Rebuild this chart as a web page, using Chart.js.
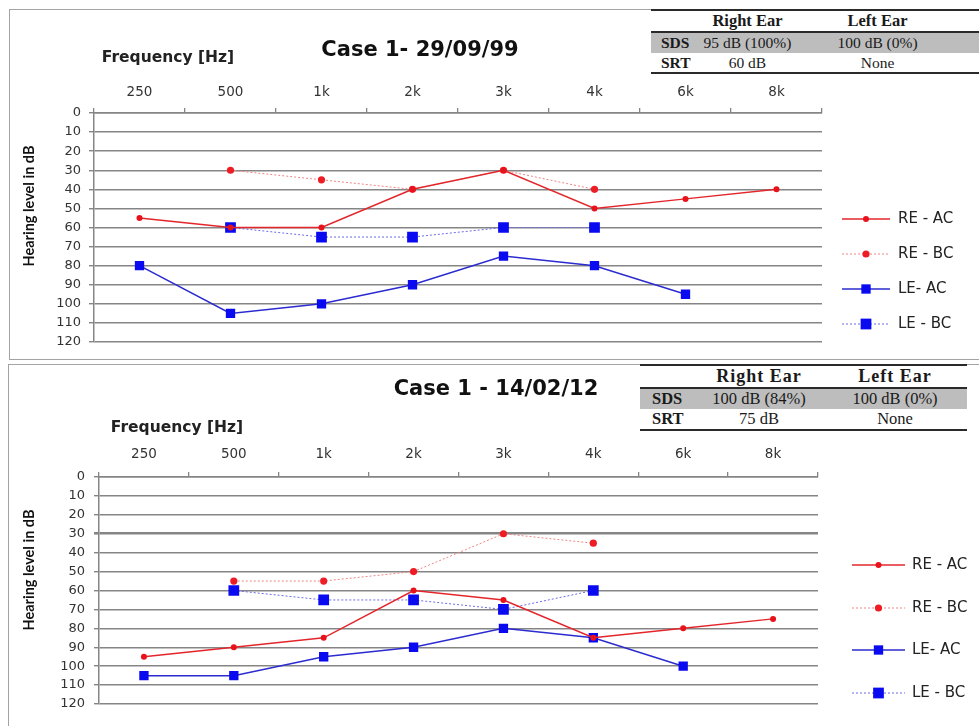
<!DOCTYPE html>
<html>
<head>
<meta charset="utf-8">
<title>Audiogram - Case 1</title>
<script src="https://cdn.jsdelivr.net/npm/chart.js@4"></script>
<style>
    body {
        margin: 0;
        width: 979px;
        height: 726px;
        overflow: hidden;
        position: relative;
        background: #fff;
        font-family: "DejaVu Sans", sans-serif;
    }
    .panel {
        position: absolute;
        border: 1px solid #a3a3a3;
    }
    canvas {
        position: absolute;
        left: 0;
    }
    .label {
        position: absolute;
        white-space: nowrap;
        transform: translate(-50%, -50%);
        color: #111;
    }
    .case-title { font: bold 21px "DejaVu Sans"; }
    .freq-title { font: bold 15.5px "DejaVu Sans"; color: #222; }
    .level-title {
        font: bold 14.5px Lato;
        transform: translate(-50%, -50%) rotate(-90deg);
    }
    table.info {
        position: absolute;
        border-collapse: collapse;
        font-family: "Liberation Serif", serif;
        color: #1a1a1a;
        background: #fff;
    }
    table.info td { padding: 0; text-align: center; white-space: nowrap; }
    table.info tr.head td { font-weight: bold; border-top: 2px solid #2a2a2a; border-bottom: 2px solid #2a2a2a; }
    table.info tr.sds td { background: #bdbdbd; }
    table.info tr.srt td { border-bottom: 2px solid #2a2a2a; }
    table.info td.lab { text-align: left; font-weight: bold; }
</style>
</head>
<body>

<div class="panel" style="left:9px; top:9px; width:990px; height:349px;"></div>
<div class="panel" style="left:8px; top:364px; width:990px; height:400px;"></div>

<canvas id="chart1999" width="979" height="360" style="top:0;"></canvas>
<canvas id="chart2012" width="979" height="364" style="top:362px;"></canvas>

<div class="label case-title" style="left:420px; top:49px;">Case 1- 29/09/99</div>
<div class="label freq-title" style="left:168px; top:57px;">Frequency [Hz]</div>
<div class="label level-title" style="left:28px; top:206px;">Hearing level in dB</div>

<div class="label case-title" style="left:496px; top:388px;">Case 1 - 14/02/12</div>
<div class="label freq-title" style="left:177px; top:427px;">Frequency [Hz]</div>
<div class="label level-title" style="left:28px; top:570px;">Hearing level in dB</div>

<table class="info" style="left:651px; top:9px; font-size:15.5px;">
    <tr class="head" style="height:19px; font-size:16.5px;">
        <td style="width:49px;"></td><td style="width:96px;">Right Ear</td><td style="width:168px;">Left Ear</td><td style="width:20px;"></td>
    </tr>
    <tr class="sds" style="height:21px;">
        <td class="lab" style="padding-left:10px;">SDS</td><td>95 dB (100%)</td><td>100 dB (0%)</td><td></td>
    </tr>
    <tr class="srt" style="height:20px;">
        <td class="lab" style="padding-left:10px;">SRT</td><td>60 dB</td><td>None</td><td></td>
    </tr>
</table>

<table class="info" style="left:640px; top:364px; font-size:16.5px;">
    <tr class="head" style="height:20px; font-size:18px; letter-spacing:1px;">
        <td style="width:50px;"></td><td style="width:138px;">Right Ear</td><td style="width:134px;">Left Ear</td><td style="width:5px;"></td>
    </tr>
    <tr class="sds" style="height:21px;">
        <td class="lab" style="padding-left:12px;">SDS</td><td>100 dB (84%)</td><td>100 dB (0%)</td><td></td>
    </tr>
    <tr class="srt" style="height:21px;">
        <td class="lab" style="padding-left:12px;">SRT</td><td>75 dB</td><td>None</td><td></td>
    </tr>
</table>

<script>
// Test frequencies (top axis) and hearing level ticks (dB HL, drawn downwards)
const frequencies = ['250', '500', '1k', '2k', '3k', '4k', '6k', '8k'];
const levelTicks = [0, 10, 20, 30, 40, 50, 60, 70, 80, 90, 100, 110, 120];
const seriesNames = ['RE - AC', 'RE - BC', 'LE- AC', 'LE - BC'];

// Case 1 - 29/09/99
const reAc1999 = [55, 60, 60, 40, 30, 50, 45, 40];
const reBc1999 = [null, 30, 35, 40, 30, 40, null, null];
const leAc1999 = [80, 105, 100, 90, 75, 80, 95, null];
const leBc1999 = [null, 60, 65, 65, 60, 60, null, null];

// Case 1 - 14/02/12
const reAc2012 = [95, 90, 85, 60, 65, 85, 80, 75];
const reBc2012 = [null, 55, 55, 50, 30, 35, null, null];
const leAc2012 = [105, 105, 95, 90, 80, 85, 100, null];
const leBc2012 = [null, 60, 65, 65, 70, 60, null, null];

// Line / marker look for each series, same order as seriesNames
const seriesStyles = [
    { borderColor: '#e3262b', borderWidth: 1.5, pointStyle: 'circle', pointRadius: 3, pointBackgroundColor: '#e8121a' },
    { borderColor: '#f08585', borderWidth: 1, borderDash: [2, 2], pointStyle: 'circle', pointRadius: 3.6, pointBackgroundColor: '#ee1c24' },
    { borderColor: '#2b2bcf', borderWidth: 1.5, pointStyle: 'rect', pointRadius: 6.6, pointBackgroundColor: '#0a0af0' },
    { borderColor: '#6b6be6', borderWidth: 1, borderDash: [2, 2], pointStyle: 'rect', pointRadius: 7.6, pointBackgroundColor: '#0a0af0' }
];

// Legend on the right: short line with the marker in the middle, then the name
const sideLegend = {
    id: 'sideLegend',
    afterDraw(chart, args, opts) {
        const ctx = chart.ctx;
        ctx.save();
        chart.data.datasets.forEach((ds, i) => {
            const y = opts.rows[i];
            const x0 = opts.x;
            const x1 = opts.x + opts.length;
            const xm = (x0 + x1) / 2;

            ctx.strokeStyle = ds.borderColor;
            ctx.lineWidth = ds.borderWidth;
            ctx.setLineDash(ds.borderDash || []);
            ctx.beginPath();
            ctx.moveTo(x0, y);
            ctx.lineTo(x1, y);
            ctx.stroke();
            ctx.setLineDash([]);

            ctx.fillStyle = ds.pointBackgroundColor;
            ctx.beginPath();
            if (ds.pointStyle === 'rect') {
                const h = ds.pointRadius * Math.SQRT1_2;
                ctx.rect(xm - h, y - h, 2 * h, 2 * h);
            } else {
                ctx.arc(xm, y, ds.pointRadius, 0, Math.PI * 2);
            }
            ctx.fill();

            ctx.fillStyle = '#222';
            ctx.font = opts.font;
            ctx.textAlign = 'left';
            ctx.textBaseline = 'middle';
            ctx.fillText(ds.label, opts.textX, y);
        });
        ctx.restore();
    }
};

function buildAudiogram(canvasId, series, layout) {
    const ctx = document.getElementById(canvasId).getContext('2d');
    return new Chart(ctx, {
        type: 'line',
        data: {
            labels: frequencies,
            datasets: series.map((values, i) => Object.assign({
                label: seriesNames[i],
                data: values,
                pointBorderWidth: 0,
                tension: 0,
                fill: false
            }, seriesStyles[i]))
        },
        options: {
            responsive: false,
            animation: false,
            events: [],
            layout: { padding: layout.padding },
            plugins: {
                legend: { display: false },
                tooltip: { enabled: false },
                sideLegend: layout.legend
            },
            scales: {
                x: {
                    position: 'top',
                    offset: true,
                    grid: {
                        offset: true,
                        drawOnChartArea: false,
                        tickLength: 5,
                        color: '#858585',
                        lineWidth: 1.3
                    },
                    border: { color: '#858585', width: 1.5 },
                    ticks: {
                        font: { family: 'DejaVu Sans', size: 13.5 },
                        color: '#333',
                        padding: layout.xPad,
                        maxRotation: 0,
                        autoSkip: false
                    },
                    afterFit: scale => { scale.height = layout.xHeight; }
                },
                y: {
                    reverse: true,
                    min: 0,
                    max: 120,
                    afterBuildTicks: scale => {
                        scale.ticks = levelTicks.map(v => ({ value: v }));
                    },
                    grid: {
                        tickLength: 5,
                        color: '#858585',
                        lineWidth: c => (layout.strongLevel !== undefined && c.tick && c.tick.value === layout.strongLevel ? 2.6 : 1.4)
                    },
                    border: { color: '#858585', width: 1.5 },
                    ticks: {
                        font: { family: 'DejaVu Sans', size: 13 },
                        color: '#333',
                        padding: layout.yPad
                    },
                    afterFit: scale => { scale.width = layout.yWidth; }
                }
            }
        },
        plugins: [sideLegend]
    });
}

buildAudiogram('chart1999', [reAc1999, reBc1999, leAc1999, leBc1999], {
    padding: { left: 0, top: 60, right: 157, bottom: 18 },
    xHeight: 53,
    yWidth: 94,
    xPad: 7,
    yPad: 8,
    legend: { x: 842, length: 48, textX: 898, rows: [219, 254, 289, 324], font: '15px "DejaVu Sans"' }
});

buildAudiogram('chart2012', [reAc2012, reBc2012, leAc2012, leBc2012], {
    padding: { left: 0, top: 60, right: 161, bottom: 22 },
    xHeight: 55,
    yWidth: 99,
    xPad: 9,
    yPad: 9,
    strongLevel: 30,
    legend: { x: 852, length: 53, textX: 912, rows: [203, 246, 288, 331], font: '15px "DejaVu Sans"' }
});
</script>
</body>
</html>
